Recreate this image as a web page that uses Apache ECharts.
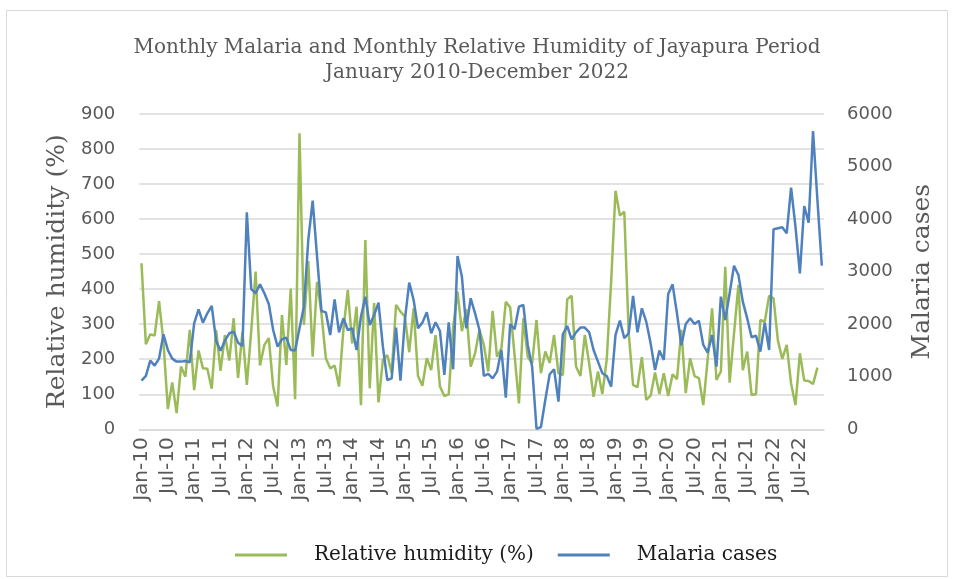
<!DOCTYPE html>
<html>
<head>
<meta charset="utf-8">
<script src="https://cdn.jsdelivr.net/npm/echarts@6/dist/echarts.min.js"></script>
<style>
html,body{margin:0;padding:0;background:#fff;}
#chart{width:954px;height:579px;}
</style>
</head>
<body>
<div id="chart"></div>
<script>
const monthNames = ['Jan','Feb','Mar','Apr','May','Jun','Jul','Aug','Sep','Oct','Nov','Dec'];
const yearLabels = ['10','11','12','13','14','15','16','17','18','19','20','21','22'];
const categories = [];
yearLabels.forEach(y => monthNames.forEach(m => categories.push(m + '-' + y)));

const humidity = [
474,243,271,268,366,250,58,134,46,179,150,284,
112,225,174,173,116,284,167,269,196,317,147,279,
127,280,450,182,241,260,122,65,326,184,402,86,
845,298,480,207,421,330,203,174,182,122,284,398,
245,350,69,540,117,360,77,198,212,160,355,336,
322,220,345,152,124,203,169,269,122,95,100,290,
393,280,343,179,217,284,241,165,338,207,231,364,
348,212,74,317,207,188,312,160,222,190,269,160,
155,371,381,179,152,269,188,93,165,101,200,420,
681,610,621,274,127,120,206,84,96,162,101,160,
95,157,143,284,103,203,152,146,69,200,345,141,
165,464,133,274,412,169,222,98,101,312,307,381,
374,253,201,241,131,69,217,139,138,129,176
];

const malaria = [
926,1015,1307,1211,1345,1808,1510,1345,1288,1288,1300,1275,
2017,2283,2030,2207,2347,1687,1497,1687,1827,1858,1649,1586,
4129,2670,2588,2759,2588,2385,1890,1573,1713,1744,1510,1497,
1922,2334,3603,4351,3286,2252,2226,1795,2474,1846,2112,1890,
1922,1509,2143,2523,1985,2175,2409,1572,938,970,1935,926,
2080,2791,2461,1922,2030,2226,1827,2036,1871,1034,2036,1142,
3298,2905,1922,2493,2207,1890,1015,1053,970,1097,1510,603,
2004,1903,2334,2366,1605,1192,10,40,558,1047,1142,526,
1808,1966,1713,1846,1935,1935,1846,1510,1288,1066,1015,812,
1795,2068,1732,1827,2537,1846,2303,2049,1636,1129,1497,1319,
2575,2759,2207,1600,2004,2112,2004,2068,1605,1459,1795,1192,
2525,2080,2588,3114,2937,2429,2112,1751,1782,1478,2030,1510,
3806,3825,3844,3730,4599,3857,2968,4250,3933,5677,4364,3114
];

const titleText = 'Monthly Malaria and Monthly Relative Humidity of Jayapura Period\nJanuary 2010-December 2022';
const seriesNames = ['Relative humidity (%)', 'Malaria cases'];

const chart = echarts.init(document.getElementById('chart'), null, {renderer: 'canvas'});
const serif = 'DejaVu Serif';
const sans = 'DejaVu Sans';
chart.setOption({
  animation: false,
  backgroundColor: '#ffffff',
  title: {
    text: titleText,
    left: 'center',
    top: 30,
    textStyle: {fontFamily: serif, fontSize: 20, fontWeight: 'normal', color: '#595959', lineHeight: 25}
  },
  graphic: [{
    type: 'rect',
    shape: {x: 6.5, y: 10.5, width: 941, height: 566},
    style: {fill: 'none', stroke: '#d9d9d9', lineWidth: 1},
    silent: true
  }],
  legend: {
    left: 230,
    top: 540,
    itemWidth: 52,
    itemHeight: 3,
    itemGap: 24,
    icon: 'rect',
    textStyle: {fontFamily: serif, fontSize: 20, color: '#1a1a1a', padding: [0, 0, 0, 22]},
    data: seriesNames
  },
  grid: {left: 139.3, right: 130, top: 114, bottom: 149.7, containLabel: false},
  xAxis: {
    type: 'category',
    data: categories,
    boundaryGap: true,
    axisTick: {show: false},
    axisLine: {show: true, lineStyle: {color: '#d9d9d9', width: 1.5}},
    axisLabel: {interval: 5, rotate: 90, margin: 8, fontFamily: sans, fontSize: 20, color: '#595959'}
  },
  yAxis: [{
    type: 'value',
    min: 0, max: 900, interval: 100,
    name: 'Relative humidity (%)',
    nameLocation: 'middle',
    nameGap: 67,
    nameTextStyle: {fontFamily: serif, fontSize: 25, color: '#595959'},
    axisLine: {show: false},
    axisTick: {show: false},
    splitLine: {lineStyle: {color: '#d9d9d9', width: 1.5}},
    axisLabel: {margin: 24, fontFamily: sans, fontSize: 18, color: '#595959', formatter: v => String(v)}
  }, {
    type: 'value',
    min: 0, max: 6000, interval: 1000,
    name: 'Malaria cases',
    nameLocation: 'middle',
    nameGap: 86,
    nameTextStyle: {fontFamily: serif, fontSize: 25, color: '#595959'},
    axisLine: {show: false},
    axisTick: {show: false},
    splitLine: {show: false},
    axisLabel: {margin: 23, fontFamily: sans, fontSize: 18, color: '#595959', formatter: v => String(v)}
  }],
  series: [{
    name: seriesNames[0],
    type: 'line',
    yAxisIndex: 0,
    data: humidity,
    showSymbol: false,
    symbol: 'none',
    lineStyle: {color: '#9BBB59', width: 2.5},
    itemStyle: {color: '#9BBB59'},
    z: 2
  }, {
    name: seriesNames[1],
    type: 'line',
    yAxisIndex: 1,
    data: malaria,
    showSymbol: false,
    symbol: 'none',
    lineStyle: {color: '#4F81BD', width: 2.5},
    itemStyle: {color: '#4F81BD'},
    z: 3
  }]
});
</script>
</body>
</html>
